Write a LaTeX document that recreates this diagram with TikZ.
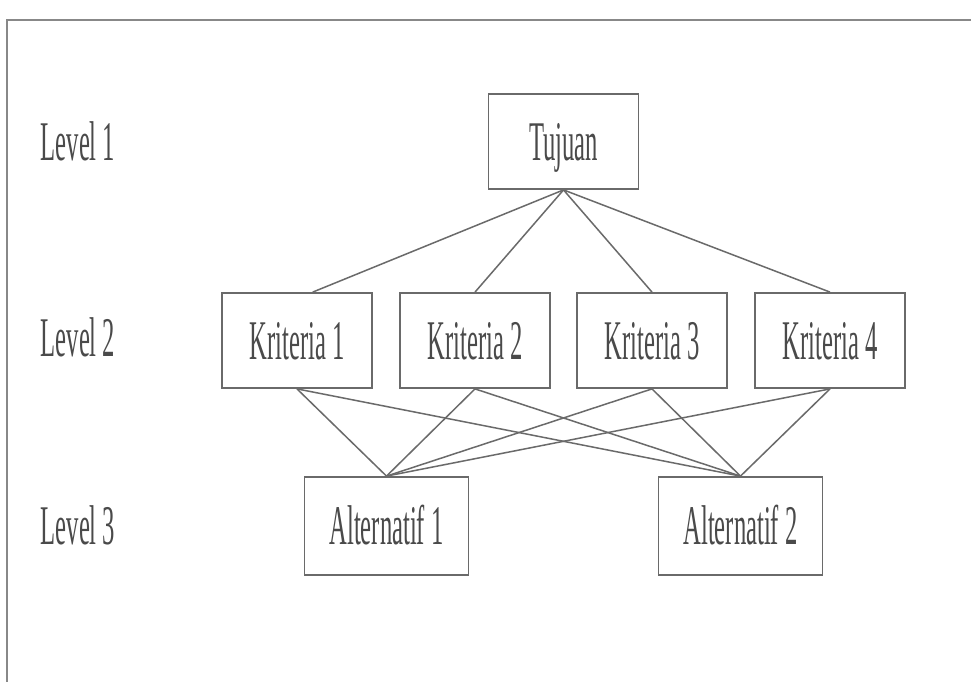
\documentclass[tikz,border=0pt]{standalone}
\usepackage{fontspec}
\setmainfont[FakeStretch=0.44]{Liberation Serif}
\definecolor{txtgray}{HTML}{4A4A4A}
\definecolor{linegray}{HTML}{6A6A6A}
\definecolor{framegray}{HTML}{888888}
\begin{document}
\begin{tikzpicture}[x=1pt,y=-1pt,
  every node/.style={font=\fontsize{56}{60}\selectfont, text=txtgray,
    text height=37pt, text depth=0pt, inner sep=0pt},
  box/.style={draw=linegray, line width=1.8pt, minimum width=150pt, minimum height=95pt},
  altbox/.style={box, minimum width=164pt, minimum height=98pt},
  link/.style={draw=linegray, line width=1.5pt}]
\useasboundingbox (0,0) rectangle (971,682);
\fill[white] (0,0) rectangle (971,682);
\draw[framegray, line width=1.5pt] (7,682) -- (7,20) -- (971,20);

\node (l1) at (78,141.5) {Level 1};
\node (l2) at (78,338) {Level 2};
\node (l3) at (78,526) {Level 3};

\node[box] (t) at (563.5,141.5) {Tujuan};
\node[box] (k1) at (297,340.5) {Kriteria 1};
\node[box] (k2) at (475,340.5) {Kriteria 2};
\node[box] (k3) at (652,340.5) {Kriteria 3};
\node[box] (k4) at (830,340.5) {Kriteria 4};
\node[altbox] (a1) at (386.5,526) {Alternatif 1};
\node[altbox] (a2) at (740.5,526) {Alternatif 2};

\draw[link] (t.south) -- (k1.72);
\draw[link] (t.south) -- (k2.north);
\draw[link] (t.south) -- (k3.north);
\draw[link] (t.south) -- (k4.north);

\foreach \k in {k1,k2,k3,k4}{
  \draw[link] (\k.south) -- (a1.north);
  \draw[link] (\k.south) -- (a2.north);
}
\end{tikzpicture}
\end{document}
